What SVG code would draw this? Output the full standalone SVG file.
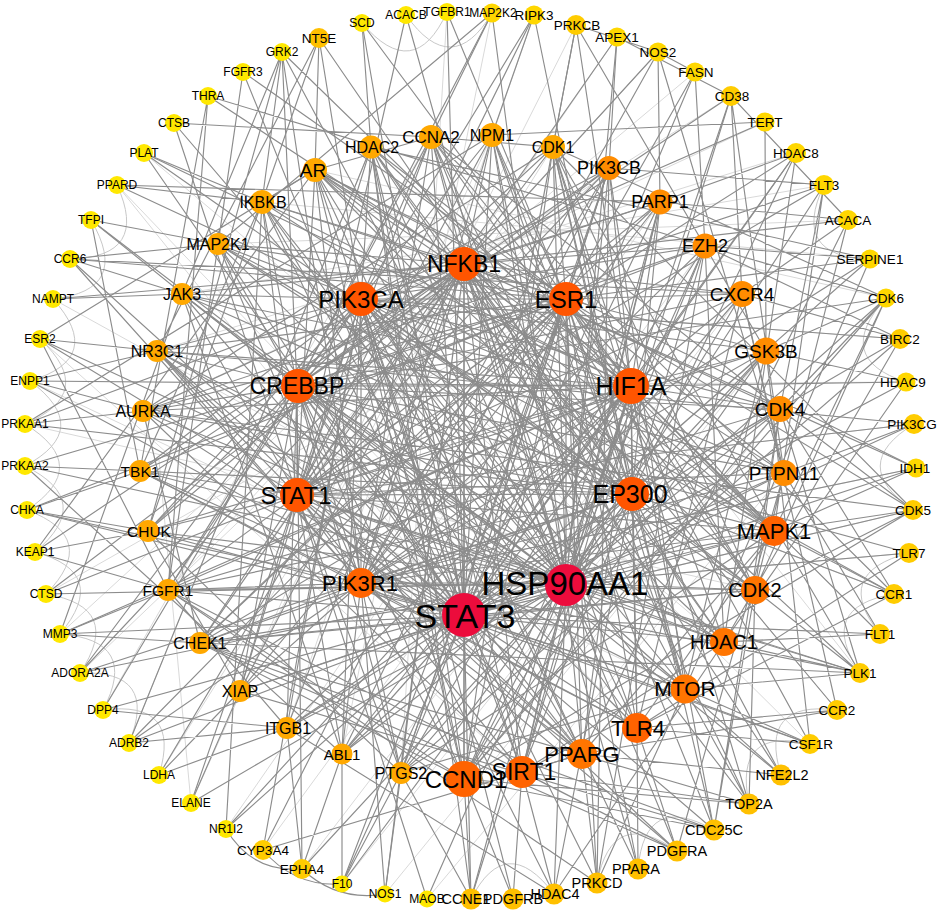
<svg xmlns="http://www.w3.org/2000/svg" width="941" height="915" viewBox="0 0 941 915">
<style>
.e{fill:none;stroke:#8c8c8c;stroke-width:1.15;stroke-linejoin:round}
.f{fill:none;stroke:#d9d9d9;stroke-width:1}
.fa{fill:none;stroke:#c8c8c8;stroke-width:1}
text{font-family:"Liberation Sans",Arial,sans-serif;text-anchor:middle;fill:#000}
.o1{font-size:12px}.o2{font-size:13.5px}.o3{font-size:14.5px}
.cR{fill:#EC0C3C}.cA{fill:#FF5500}.cB{fill:#FF6300}.cC{fill:#FF7500}.cD{fill:#FF8C00}.cE{fill:#FFA800}.cF{fill:#FFC000}.cG{fill:#FFCC00}.cH{fill:#FFD700}.cY{fill:#FFE800}
</style>
<rect width="941" height="915" fill="#fff"/>
<g id="edges">
<path id="faint" class="f" d="M144 153 724 642M117 185 637 728M53 299 566 583M40 339 522 772M30 381 685 689M25 424 755 590M46 594 566 299M60 634 464 264M80 673 609 168M103 710 431 137M129 743 371 147M159 775 553 147M191 803 492 135M226 829 660 202M263 850 705 246M302 869 742 294M342 884 766 351M385 894 780 409M427 899 784 473M447 12 401 773M492 13 342 754M534 15 287 728M576 25 240 691M617 37 200 643M658 52 168 590M695 72 148 531M731 96 140 471M765 122 143 411M796 153 157 351M824 185 182 294M848 220 218 244M870 259 262 202M886 298 315 170M900 339 361 299M906 382 297 386M914 424 297 495M916 468 361 583M913 510 464 616M909 553 566 583M894 594 632 494M880 634 631 386M860 673 566 299M837 710 464 264M810 744 361 299M117 185 464 616M191 803 159 460"/>
<path id="arcs" class="fa" d="M91 220Q132 290 53 299M117 185Q150 257 70 259M53 299Q106 358 30 381M40 339Q98 393 25 424M30 381Q94 429 25 466M25 424Q93 466 27 510M25 466Q96 501 35 552M27 510Q101 538 46 594M35 552Q111 573 60 634M46 594Q124 607 80 673M60 634Q140 640 103 710M80 673Q159 670 129 743M103 710Q182 700 159 775M362 23Q414 84 447 12M406 15Q452 80 492 13M824 185Q790 257 870 259M886 298Q832 358 906 382M914 424Q847 465 913 510M909 553Q831 573 880 634M894 594Q816 607 860 673M837 710Q758 700 781 775M810 744Q733 726 749 804M714 830Q645 791 638 869M677 851Q612 805 597 883M554 894Q506 831 471 899"/>
<path id="ring" class="e" d="M226 829Q252 873 302 869M263 850Q294 887 342 884M302 869Q337 902 385 894M658 52 695 72M731 96 848 220M617 37 731 96M576 25 658 52"/>
<path id="e-STAT3" class="e" d="M566 583 464 616 361 299M464 264 464 616 566 299M631 386 464 616 297 386M297 495 464 616 632 494M361 583 464 616 315 170M371 147 464 616 431 137M492 135 464 616 553 147M609 168 464 616 660 202M705 246 464 616 742 294M766 351 464 616 780 409M784 473 464 616 774 531M755 590 464 616 724 642M685 689 464 616 637 728M582 754 464 616 522 772M464 779 464 616 401 773M342 754 464 616 287 728M240 691 464 616 200 643M168 590 464 616 148 531M140 471 464 616 143 411M157 351 464 616 182 294M218 244 464 616 262 202M447 12 464 616 576 25M695 72 464 616 796 153M870 259 464 616 906 382M913 510 464 616 880 634M810 744 464 616 714 830M597 883 464 616 471 899M342 884 464 616 226 829M129 743 464 616 60 634M27 510 464 616 30 381M70 259 464 616 144 153M243 72 464 616 362 23"/>
<path id="e-HSP90AA1" class="e" d="M361 299 566 583 464 264M566 299 566 583 631 386M297 386 566 583 297 495M632 494 566 583 361 583M315 170 566 583 371 147M431 137 566 583 492 135M553 147 566 583 609 168M660 202 566 583 705 246M742 294 566 583 766 351M780 409 566 583 784 473M774 531 566 583 755 590M724 642 566 583 685 689M637 728 566 583 582 754M522 772 566 583 464 779M401 773 566 583 342 754M287 728 566 583 240 691M200 643 566 583 168 590M148 531 566 583 140 471M143 411 566 583 157 351M182 294 566 583 218 244M262 202 566 583 492 13M617 37 566 583 731 96M824 185 566 583 886 298M914 424 566 583 909 553M860 673 566 583 781 775M677 851 566 583 554 894M427 899 566 583 302 869M191 803 566 583 103 710M46 594 566 583 25 466M40 339 566 583 91 220M174 123 566 583 282 52M406 15 566 583 916 468"/>
<path id="e-PIK3CA" class="e" d="M464 264 361 299 566 299M631 386 361 299 297 386M297 495 361 299 632 494M361 583 361 299 371 147M431 137 361 299 492 135M609 168 361 299 660 202M705 246 361 299 766 351M780 409 361 299 784 473M755 590 361 299 724 642M685 689 361 299 582 754M522 772 361 299 464 779M342 754 361 299 287 728M240 691 361 299 168 590M148 531 361 299 140 471M157 351 361 299 182 294M218 244 361 299 534 15M765 122 361 299 900 339M894 594 361 299 749 804M513 899 361 299 263 850M80 673 361 299 25 424M117 185 361 299 319 38"/>
<path id="e-NFKB1" class="e" d="M566 299 464 264 631 386M297 386 464 264 297 495M632 494 464 264 361 583M315 170 464 264 431 137M492 135 464 264 553 147M660 202 464 264 705 246M742 294 464 264 780 409M784 473 464 264 774 531M724 642 464 264 685 689M637 728 464 264 522 772M464 779 464 264 401 773M287 728 464 264 240 691M200 643 464 264 148 531M140 471 464 264 143 411M182 294 464 264 218 244M262 202 464 264 658 52M848 220 464 264 916 468M837 710 464 264 638 869M385 894 464 264 159 775M35 552 464 264 53 299M208 96 464 264 80 673"/>
<path id="e-ESR1" class="e" d="M631 386 566 299 297 386M297 495 566 299 632 494M361 583 566 299 315 170M371 147 566 299 492 135M553 147 566 299 609 168M705 246 566 299 742 294M766 351 566 299 784 473M774 531 566 299 755 590M685 689 566 299 637 728M582 754 566 299 464 779M401 773 566 299 342 754M240 691 566 299 200 643M168 590 566 299 140 471M143 411 566 299 157 351M218 244 566 299 262 202M447 12 566 299 695 72M870 259 566 299 913 510M810 744 566 299 597 883M342 884 566 299 129 743M27 510 566 299 70 259M243 72 566 299 796 153"/>
<path id="e-HIF1A" class="e" d="M297 386 631 386 297 495M632 494 631 386 361 583M315 170 631 386 371 147M431 137 631 386 553 147M609 168 631 386 660 202M742 294 631 386 766 351M780 409 631 386 774 531M755 590 631 386 724 642M637 728 631 386 582 754M522 772 631 386 401 773M342 754 631 386 287 728M200 643 631 386 168 590M148 531 631 386 143 411M157 351 631 386 182 294M262 202 631 386 576 25M796 153 631 386 906 382M880 634 631 386 714 830M471 899 631 386 226 829M60 634 631 386 30 381M144 153 631 386 362 23"/>
<path id="e-CREBBP" class="e" d="M297 495 297 386 632 494M361 583 297 386 371 147M431 137 297 386 553 147M609 168 297 386 705 246M742 294 297 386 780 409M784 473 297 386 755 590M724 642 297 386 637 728M582 754 297 386 464 779M401 773 297 386 287 728M240 691 297 386 168 590M148 531 297 386 143 411M157 351 297 386 218 244M262 202 297 386 492 13M731 96 297 386 886 298M909 553 297 386 781 775M554 894 297 386 302 869M103 710 297 386 25 466M91 220 297 386 282 52"/>
<path id="e-STAT1" class="e" d="M632 494 297 495 361 583M315 170 297 495 431 137M492 135 297 495 609 168M660 202 297 495 742 294M766 351 297 495 784 473M774 531 297 495 724 642M685 689 297 495 582 754M522 772 297 495 401 773M342 754 297 495 240 691M200 643 297 495 148 531M140 471 297 495 157 351M182 294 297 495 262 202M617 37 297 495 824 185M914 424 297 495 860 673M677 851 297 495 427 899M191 803 297 495 46 594M40 339 297 495 174 123M406 15 297 495 534 15"/>
<path id="e-EP300" class="e" d="M361 583 632 494 315 170M371 147 632 494 492 135M553 147 632 494 660 202M705 246 632 494 766 351M780 409 632 494 774 531M755 590 632 494 685 689M637 728 632 494 522 772M464 779 632 494 342 754M287 728 632 494 200 643M168 590 632 494 140 471M143 411 632 494 182 294M218 244 632 494 534 15M796 153 632 494 900 339M894 594 632 494 781 775M554 894 632 494 342 884M80 673 632 494 25 424M144 153 632 494 319 38"/>
<path id="e-PIK3R1" class="e" d="M315 170 361 583 431 137M492 135 361 583 609 168M660 202 361 583 705 246M766 351 361 583 784 473M774 531 361 583 755 590M685 689 361 583 637 728M582 754 361 583 464 779M401 773 361 583 342 754M240 691 361 583 200 643M168 590 361 583 140 471M157 351 361 583 218 244M658 52 361 583 870 259M916 468 361 583 810 744M677 851 361 583 385 894M129 743 361 583 27 510M70 259 361 583 282 52"/>
<path id="e-mid-outer" class="e" d="M315 170 40 339M315 170 319 38M315 170 860 673M315 170 916 468M315 170 35 552M371 147 362 23M371 147 870 259M371 147 781 775M371 147 129 743M371 147 471 899M431 137 492 13M431 137 749 804M431 137 714 830M431 137 174 123M431 137 894 594M492 135 534 15M492 135 638 869M492 135 765 122M492 135 25 424M553 147 576 25M553 147 714 830M553 147 886 298M553 147 749 804M553 147 860 673M553 147 913 510M609 168 617 37M609 168 824 185M609 168 263 850M609 168 597 883M609 168 46 594M660 202 658 52M660 202 796 153M660 202 471 899M660 202 848 220M660 202 117 185M705 246 695 72M705 246 870 259M705 246 886 298M705 246 208 96M705 246 597 883M705 246 900 339M742 294 731 96M742 294 900 339M742 294 837 710M742 294 848 220M742 294 70 259M766 351 886 298M766 351 906 382M766 351 810 744M766 351 765 122M766 351 576 25M780 409 886 298M780 409 894 594M780 409 714 830M780 409 913 510M780 409 824 185M780 409 860 673M784 473 914 424M784 473 880 634M784 473 658 52M784 473 731 96M784 473 677 851M774 531 916 468M774 531 913 510M774 531 894 594M774 531 886 298M774 531 824 185M774 531 80 673M774 531 282 52M755 590 913 510M755 590 860 673M755 590 714 830M755 590 886 298M755 590 749 804M755 590 848 220M724 642 906 382M724 642 880 634M724 642 554 894M724 642 900 339M724 642 860 673M724 642 796 153M685 689 860 673M685 689 749 804M685 689 870 259M685 689 810 744M685 689 597 883M637 728 909 553M637 728 810 744M637 728 894 594M637 728 638 869M637 728 677 851M637 728 837 710M582 754 781 775M582 754 638 869M582 754 597 883M582 754 263 850M582 754 848 220M582 754 837 710M522 772 554 894M522 772 513 899M522 772 677 851M522 772 749 804M522 772 731 96M464 779 471 899M464 779 513 899M464 779 714 830M464 779 749 804M464 779 886 298M464 779 913 510M401 773 385 894M401 773 471 899M401 773 342 884M401 773 900 339M342 754 342 884M342 754 302 869M342 754 25 466M287 728 103 710M287 728 129 743M287 728 302 869M287 728 159 775M287 728 554 894M240 691 159 775M240 691 191 803M240 691 714 830M200 643 714 830M200 643 749 804M200 643 860 673M200 643 60 634M200 643 677 851M168 590 35 552M168 590 60 634M168 590 243 72M168 590 208 96M168 590 40 339M168 590 597 883M168 590 677 851M148 531 27 510M148 531 35 552M148 531 282 52M148 531 860 673M140 471 25 466M140 471 27 510M140 471 208 96M140 471 91 220M143 411 25 424M143 411 30 381M143 411 824 185M143 411 913 510M157 351 40 339M157 351 30 381M157 351 319 38M157 351 914 424M182 294 53 299M182 294 70 259M182 294 60 634M182 294 282 52M218 244 91 220M218 244 70 259M218 244 492 13M218 244 243 72M262 202 117 185M262 202 144 153M262 202 319 38M262 202 226 829M262 202 282 52"/>
<path id="e-mid-mid" class="e" d="M315 170 262 202M315 170 431 137M315 170 774 531M315 170 582 754M371 147 724 642M371 147 522 772M431 137 553 147M431 137 755 590M431 137 780 409M492 135 685 689M553 147 755 590M553 147 464 779M609 168 685 689M609 168 401 773M660 202 522 772M705 246 724 642M742 294 637 728M766 351 685 689M766 351 464 779M780 409 464 779M784 473 182 294M774 531 582 754M774 531 218 244M774 531 262 202M755 590 200 643M724 642 522 772M685 689 401 773M637 728 262 202M637 728 140 471M582 754 157 351M522 772 143 411M464 779 200 643M464 779 168 590M401 773 148 531M342 754 182 294M287 728 168 590M240 691 148 531M200 643 143 411M168 590 780 409M148 531 262 202M140 471 262 202M143 411 553 147M157 351 724 642M182 294 685 689M218 244 755 590M262 202 582 754M315 170 464 779M371 147 464 779M705 246 464 779M660 202 200 643M742 294 784 473M780 409 755 590M637 728 774 531M401 773 774 531M522 772 685 689M522 772 582 754"/>
</g>
<g id="nodes">
<g id="n-TGFBR1"><circle class="cY" cx="447" cy="12" r="9"/><text class="o1" x="447" y="16">TGFBR1</text></g>
<g id="n-MAP2K2"><circle class="cH" cx="492" cy="13" r="9.5"/><text class="o1" x="493" y="17">MAP2K2</text></g>
<g id="n-RIPK3"><circle class="cH" cx="534" cy="15" r="9.5"/><text class="o2" x="534" y="20">RIPK3</text></g>
<g id="n-PRKCB"><circle class="cG" cx="576" cy="25" r="10"/><text class="o2" x="577" y="30">PRKCB</text></g>
<g id="n-APEX1"><circle class="cH" cx="617" cy="37" r="9.5"/><text class="o2" x="617" y="42">APEX1</text></g>
<g id="n-NOS2"><circle class="cH" cx="658" cy="52" r="9.5"/><text class="o2" x="658" y="57">NOS2</text></g>
<g id="n-FASN"><circle class="cH" cx="695" cy="72" r="9.5"/><text class="o2" x="696" y="77">FASN</text></g>
<g id="n-CD38"><circle class="cG" cx="731" cy="96" r="10"/><text class="o2" x="732" y="101">CD38</text></g>
<g id="n-TERT"><circle class="cH" cx="765" cy="122" r="9.5"/><text class="o2" x="765" y="127">TERT</text></g>
<g id="n-HDAC8"><circle class="cH" cx="796" cy="153" r="10"/><text class="o2" x="796" y="158">HDAC8</text></g>
<g id="n-FLT3"><circle class="cH" cx="824" cy="185" r="10"/><text class="o2" x="824" y="190">FLT3</text></g>
<g id="n-ACACA"><circle class="cH" cx="848" cy="220" r="10"/><text class="o2" x="848" y="225">ACACA</text></g>
<g id="n-SERPINE1"><circle class="cH" cx="870" cy="259" r="9.5"/><text class="o2" x="870" y="264">SERPINE1</text></g>
<g id="n-CDK6"><circle class="cH" cx="886" cy="298" r="9.5"/><text class="o2" x="886" y="303">CDK6</text></g>
<g id="n-BIRC2"><circle class="cG" cx="900" cy="339" r="10"/><text class="o2" x="900" y="344">BIRC2</text></g>
<g id="n-HDAC9"><circle class="cH" cx="906" cy="382" r="9.5"/><text class="o2" x="903" y="387">HDAC9</text></g>
<g id="n-PIK3CG"><circle class="cG" cx="914" cy="424" r="10"/><text class="o2" x="912" y="429">PIK3CG</text></g>
<g id="n-IDH1"><circle class="cH" cx="916" cy="468" r="9.5"/><text class="o2" x="915" y="473">IDH1</text></g>
<g id="n-CDK5"><circle class="cG" cx="913" cy="510" r="10"/><text class="o2" x="913" y="515">CDK5</text></g>
<g id="n-TLR7"><circle class="cG" cx="909" cy="553" r="10"/><text class="o2" x="909" y="558">TLR7</text></g>
<g id="n-CCR1"><circle class="cG" cx="894" cy="594" r="10"/><text class="o2" x="894" y="599">CCR1</text></g>
<g id="n-FLT1"><circle class="cG" cx="880" cy="634" r="10"/><text class="o2" x="880" y="639">FLT1</text></g>
<g id="n-PLK1"><circle class="cG" cx="860" cy="673" r="10"/><text class="o2" x="860" y="678">PLK1</text></g>
<g id="n-CCR2"><circle class="cG" cx="837" cy="710" r="10"/><text class="o2" x="837" y="715">CCR2</text></g>
<g id="n-CSF1R"><circle class="cG" cx="810" cy="744" r="10"/><text class="o2" x="811" y="749">CSF1R</text></g>
<g id="n-NFE2L2"><circle class="cF" cx="781" cy="775" r="10.5"/><text class="o3" x="782" y="780">NFE2L2</text></g>
<g id="n-TOP2A"><circle class="cF" cx="749" cy="804" r="10.5"/><text class="o3" x="749" y="809">TOP2A</text></g>
<g id="n-CDC25C"><circle class="cF" cx="714" cy="830" r="10.5"/><text class="o3" x="714" y="835">CDC25C</text></g>
<g id="n-PDGFRA"><circle class="cF" cx="677" cy="851" r="10.5"/><text class="o3" x="677" y="856">PDGFRA</text></g>
<g id="n-PPARA"><circle class="cF" cx="638" cy="869" r="10.5"/><text class="o3" x="636" y="874">PPARA</text></g>
<g id="n-PRKCD"><circle class="cF" cx="597" cy="883" r="10.5"/><text class="o3" x="597" y="888">PRKCD</text></g>
<g id="n-HDAC4"><circle class="cF" cx="554" cy="894" r="10.5"/><text class="o3" x="555" y="899">HDAC4</text></g>
<g id="n-PDGFRB"><circle class="cF" cx="513" cy="899" r="10.5"/><text class="o3" x="513" y="904">PDGFRB</text></g>
<g id="n-CCNE1"><circle class="cF" cx="471" cy="899" r="10.5"/><text class="o3" x="466" y="904">CCNE1</text></g>
<g id="n-MAOB"><circle class="cY" cx="427" cy="899" r="8.5"/><text class="o1" x="427" y="903">MAOB</text></g>
<g id="n-NOS1"><circle class="cY" cx="385" cy="894" r="8.5"/><text class="o1" x="385" y="898">NOS1</text></g>
<g id="n-F10"><circle class="cY" cx="342" cy="884" r="8.5"/><text class="o1" x="342" y="888">F10</text></g>
<g id="n-EPHA4"><circle class="cG" cx="302" cy="869" r="10"/><text class="o2" x="302" y="874">EPHA4</text></g>
<g id="n-CYP3A4"><circle class="cG" cx="263" cy="850" r="10"/><text class="o2" x="263" y="855">CYP3A4</text></g>
<g id="n-NR1I2"><circle class="cY" cx="226" cy="829" r="9"/><text class="o1" x="226" y="833">NR1I2</text></g>
<g id="n-ELANE"><circle class="cY" cx="191" cy="803" r="9"/><text class="o1" x="191" y="807">ELANE</text></g>
<g id="n-LDHA"><circle class="cY" cx="159" cy="775" r="9"/><text class="o1" x="159" y="779">LDHA</text></g>
<g id="n-ADRB2"><circle class="cY" cx="129" cy="743" r="9"/><text class="o1" x="129" y="747">ADRB2</text></g>
<g id="n-DPP4"><circle class="cY" cx="103" cy="710" r="9"/><text class="o1" x="103" y="714">DPP4</text></g>
<g id="n-ADORA2A"><circle class="cY" cx="80" cy="673" r="9"/><text class="o1" x="80" y="677">ADORA2A</text></g>
<g id="n-MMP3"><circle class="cY" cx="60" cy="634" r="9"/><text class="o1" x="60" y="638">MMP3</text></g>
<g id="n-CTSD"><circle class="cY" cx="46" cy="594" r="9"/><text class="o1" x="46" y="598">CTSD</text></g>
<g id="n-KEAP1"><circle class="cY" cx="35" cy="552" r="9"/><text class="o1" x="35" y="556">KEAP1</text></g>
<g id="n-CHKA"><circle class="cY" cx="27" cy="510" r="9"/><text class="o1" x="27" y="514">CHKA</text></g>
<g id="n-PRKAA2"><circle class="cY" cx="25" cy="466" r="9"/><text class="o1" x="25" y="470">PRKAA2</text></g>
<g id="n-PRKAA1"><circle class="cY" cx="25" cy="424" r="9"/><text class="o1" x="25" y="428">PRKAA1</text></g>
<g id="n-ENPP1"><circle class="cY" cx="30" cy="381" r="9"/><text class="o1" x="30" y="385">ENPP1</text></g>
<g id="n-ESR2"><circle class="cY" cx="40" cy="339" r="9"/><text class="o1" x="40" y="343">ESR2</text></g>
<g id="n-NAMPT"><circle class="cY" cx="53" cy="299" r="9"/><text class="o1" x="53" y="303">NAMPT</text></g>
<g id="n-CCR6"><circle class="cY" cx="70" cy="259" r="9"/><text class="o1" x="70" y="263">CCR6</text></g>
<g id="n-TFPI"><circle class="cY" cx="91" cy="220" r="9"/><text class="o1" x="91" y="224">TFPI</text></g>
<g id="n-PPARD"><circle class="cY" cx="117" cy="185" r="9"/><text class="o1" x="117" y="189">PPARD</text></g>
<g id="n-PLAT"><circle class="cY" cx="144" cy="153" r="9"/><text class="o1" x="144" y="157">PLAT</text></g>
<g id="n-CTSB"><circle class="cY" cx="174" cy="123" r="9"/><text class="o1" x="174" y="127">CTSB</text></g>
<g id="n-THRA"><circle class="cY" cx="208" cy="96" r="9"/><text class="o1" x="208" y="100">THRA</text></g>
<g id="n-FGFR3"><circle class="cY" cx="243" cy="72" r="9"/><text class="o1" x="243" y="76">FGFR3</text></g>
<g id="n-GRK2"><circle class="cY" cx="282" cy="52" r="9"/><text class="o1" x="282" y="56">GRK2</text></g>
<g id="n-NT5E"><circle class="cF" cx="319" cy="38" r="10"/><text class="o2" x="319" y="43">NT5E</text></g>
<g id="n-SCD"><circle class="cY" cx="362" cy="23" r="9"/><text class="o1" x="362" y="27">SCD</text></g>
<g id="n-ACACB"><circle class="cY" cx="406" cy="15" r="9"/><text class="o1" x="406" y="19">ACACB</text></g>
<g id="n-AR"><circle class="cE" cx="315" cy="170" r="12"/><text x="313" y="177" font-size="19">AR</text></g>
<g id="n-HDAC2"><circle class="cE" cx="371" cy="147" r="11.5"/><text x="372" y="153" font-size="16">HDAC2</text></g>
<g id="n-CCNA2"><circle class="cE" cx="431" cy="137" r="12"/><text x="431" y="143" font-size="17">CCNA2</text></g>
<g id="n-NPM1"><circle class="cE" cx="492" cy="135" r="12"/><text x="492" y="141" font-size="16">NPM1</text></g>
<g id="n-CDK1"><circle class="cE" cx="553" cy="147" r="12"/><text x="553" y="153" font-size="16">CDK1</text></g>
<g id="n-PIK3CB"><circle class="cD" cx="609" cy="168" r="12"/><text x="609" y="174" font-size="18">PIK3CB</text></g>
<g id="n-PARP1"><circle class="cD" cx="660" cy="202" r="12.5"/><text x="660" y="208" font-size="18">PARP1</text></g>
<g id="n-EZH2"><circle class="cD" cx="705" cy="246" r="12.5"/><text x="705" y="252" font-size="18">EZH2</text></g>
<g id="n-CXCR4"><circle class="cD" cx="742" cy="294" r="13"/><text x="742" y="301" font-size="19">CXCR4</text></g>
<g id="n-GSK3B"><circle class="cD" cx="766" cy="351" r="13.5"/><text x="766" y="358" font-size="19">GSK3B</text></g>
<g id="n-CDK4"><circle class="cD" cx="780" cy="409" r="13"/><text x="780" y="416" font-size="19">CDK4</text></g>
<g id="n-PTPN11"><circle class="cD" cx="784" cy="473" r="13"/><text x="784" y="480" font-size="19">PTPN11</text></g>
<g id="n-MAPK1"><circle class="cB" cx="774" cy="531" r="15"/><text x="774" y="539" font-size="22">MAPK1</text></g>
<g id="n-CDK2"><circle class="cC" cx="755" cy="590" r="14"/><text x="755" y="597" font-size="20">CDK2</text></g>
<g id="n-HDAC1"><circle class="cC" cx="724" cy="642" r="14"/><text x="724" y="649" font-size="20">HDAC1</text></g>
<g id="n-MTOR"><circle class="cC" cx="685" cy="689" r="14.5"/><text x="685" y="696" font-size="21">MTOR</text></g>
<g id="n-TLR4"><circle class="cB" cx="637" cy="728" r="15"/><text x="638" y="736" font-size="22">TLR4</text></g>
<g id="n-PPARG"><circle class="cC" cx="582" cy="754" r="15"/><text x="582" y="762" font-size="22">PPARG</text></g>
<g id="n-CCND1"><circle class="cB" cx="464" cy="779" r="18"/><text x="466" y="788" font-size="24">CCND1</text></g>
<g id="n-SIRT1"><circle class="cB" cx="522" cy="772" r="16"/><text x="524" y="780" font-size="23">SIRT1</text></g>
<g id="n-PTGS2"><circle class="cE" cx="401" cy="773" r="11"/><text x="401" y="779" font-size="16">PTGS2</text></g>
<g id="n-ABL1"><circle class="cE" cx="342" cy="754" r="10.5"/><text x="342" y="760" font-size="15">ABL1</text></g>
<g id="n-ITGB1"><circle class="cE" cx="287" cy="728" r="11"/><text x="288" y="734" font-size="16">ITGB1</text></g>
<g id="n-XIAP"><circle class="cE" cx="240" cy="691" r="11"/><text x="240" y="697" font-size="16">XIAP</text></g>
<g id="n-CHEK1"><circle class="cE" cx="200" cy="643" r="11"/><text x="200" y="649" font-size="16">CHEK1</text></g>
<g id="n-FGFR1"><circle class="cE" cx="168" cy="590" r="11"/><text x="168" y="596" font-size="15.5">FGFR1</text></g>
<g id="n-CHUK"><circle class="cE" cx="148" cy="531" r="11"/><text x="149" y="537" font-size="15.5">CHUK</text></g>
<g id="n-TBK1"><circle class="cE" cx="140" cy="471" r="11"/><text x="140" y="477" font-size="15.5">TBK1</text></g>
<g id="n-AURKA"><circle class="cE" cx="143" cy="411" r="11"/><text x="143" y="417" font-size="16">AURKA</text></g>
<g id="n-NR3C1"><circle class="cE" cx="157" cy="351" r="11"/><text x="157" y="357" font-size="16">NR3C1</text></g>
<g id="n-JAK3"><circle class="cE" cx="182" cy="294" r="11"/><text x="182" y="300" font-size="16">JAK3</text></g>
<g id="n-MAP2K1"><circle class="cE" cx="218" cy="244" r="11"/><text x="218" y="250" font-size="16">MAP2K1</text></g>
<g id="n-IKBKB"><circle class="cE" cx="262" cy="202" r="12"/><text x="263" y="208" font-size="16">IKBKB</text></g>
<g id="n-PIK3CA"><circle class="cA" cx="361" cy="299" r="17"/><text x="361" y="308" font-size="24">PIK3CA</text></g>
<g id="n-NFKB1"><circle class="cA" cx="464" cy="264" r="17"/><text x="464" y="272" font-size="23">NFKB1</text></g>
<g id="n-ESR1"><circle class="cA" cx="566" cy="299" r="17"/><text x="566" y="308" font-size="24">ESR1</text></g>
<g id="n-HIF1A"><circle class="cA" cx="631" cy="386" r="18"/><text x="631" y="395" font-size="25">HIF1A</text></g>
<g id="n-CREBBP"><circle class="cA" cx="298" cy="386" r="17"/><text x="297" y="394" font-size="23">CREBBP</text></g>
<g id="n-STAT1"><circle class="cA" cx="297" cy="495" r="17"/><text x="296" y="504" font-size="24">STAT1</text></g>
<g id="n-EP300"><circle class="cA" cx="632" cy="494" r="17"/><text x="630" y="503" font-size="25">EP300</text></g>
<g id="n-PIK3R1"><circle class="cB" cx="361" cy="583" r="15"/><text x="360" y="591" font-size="22">PIK3R1</text></g>
<g id="n-HSP90AA1"><circle class="cR" cx="566" cy="585" r="21"/><text x="565" y="595" font-size="33">HSP90AA1</text></g>
<g id="n-STAT3"><circle class="cR" cx="464" cy="615" r="22"/><text x="465" y="628" font-size="34">STAT3</text></g>
</g>
</svg>
